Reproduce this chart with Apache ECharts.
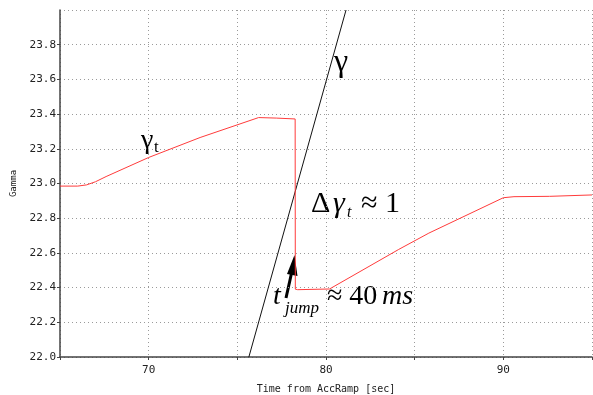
<!DOCTYPE html>
<html>
<head>
<meta charset="utf-8">
<script src="https://cdn.jsdelivr.net/npm/echarts@6/dist/echarts.min.js"></script>
<style>
  html, body { margin: 0; padding: 0; background: #fff; }
  #chart { width: 593px; height: 395px; }
</style>
</head>
<body>
<div id="chart"></div>
<script>
// gamma_t (red) measured curve
const gammaTX = [65, 66.0, 66.5, 67.0, 67.6, 70, 72.9, 76.2, 77.2, 78.26, 78.27, 78.4, 80.2, 84.1, 85.8, 90.0, 90.6, 92.6, 92.7, 95];
const gammaTY = [22.985, 22.985, 22.992, 23.01, 23.04, 23.15, 23.265, 23.38, 23.377, 23.372, 22.391, 22.388, 22.392, 22.62, 22.714, 22.918, 22.924, 22.926, 22.932, 22.934];

// gamma (black) straight ramp
const gammaX = [75.65, 81.13];
const gammaY = [22.0, 24.0];

const xTicks = [70, 80, 90];

window.addEventListener("load", () => {
  let chart = echarts.init(document.getElementById("chart"), null, { renderer: 'canvas' });

  const monoFont = 'DejaVu Sans Mono';
  const dotted = { show: true, lineStyle: { color: '#9a9a9a', type: [1, 3], width: 1 } };

  let option = {
    backgroundColor: '#fff',
    animation: false,
    grid: { left: 60, right: 1, top: 10, bottom: 38, outerBoundsMode: 'none', containLabel: false },
    xAxis: {
      type: 'value',
      min: 65, max: 95, interval: 5,
      name: 'Time from AccRamp [sec]',
      nameLocation: 'middle',
      nameGap: 27,
      nameTextStyle: { fontFamily: monoFont, fontSize: 10, color: '#222' },
      axisLine: { show: true, lineStyle: { color: '#444', width: 1.5 } },
      axisTick: { show: true, length: 3, lineStyle: { color: '#444' } },
      axisLabel: {
        fontFamily: monoFont, fontSize: 11, color: '#222', margin: 8,
        formatter: v => xTicks.includes(v) ? String(v) : ''
      },
      splitLine: dotted
    },
    yAxis: {
      type: 'value',
      min: 22.0, max: 24.0, interval: 0.2,
      name: 'Gamma',
      nameLocation: 'middle',
      nameGap: 35,
      nameTextStyle: { fontFamily: monoFont, fontSize: 9, color: '#222' },
      axisLine: { show: true, lineStyle: { color: '#444', width: 1.5 } },
      axisTick: { show: true, length: 3, lineStyle: { color: '#444' } },
      axisLabel: {
        fontFamily: monoFont, fontSize: 11, color: '#222', margin: 4,
        showMaxLabel: false,
        formatter: v => v.toFixed(1)
      },
      splitLine: dotted
    },
    series: [
      {
        name: 'gamma_t',
        type: 'line',
        symbol: 'none',
        smooth: false,
        lineStyle: { color: '#ff3b3b', width: 1 },
        data: gammaTX.map((x, i) => [x, gammaTY[i]]),
        z: 3
      },
      {
        name: 'gamma',
        type: 'line',
        symbol: 'none',
        lineStyle: { color: '#111', width: 1 },
        data: gammaX.map((x, i) => [x, gammaY[i]]),
        z: 2
      }
    ],
    graphic: [
      // gamma label
      { type: 'text', left: 334, top: 47, style: { text: 'γ', font: '32px "Liberation Serif"', fill: '#000' } },
      // gamma_t label
      { type: 'text', left: 141, top: 127, style: { text: 'γ', font: '28px "Liberation Serif"', fill: '#000' } },
      { type: 'text', left: 154, top: 139, style: { text: 't', font: '17px "Liberation Serif"', fill: '#000' } },
      // delta gamma_t ~ 1
      { type: 'text', left: 311, top: 189, style: { text: 'Δ', font: '30px "Liberation Serif"', fill: '#000' } },
      { type: 'text', left: 333, top: 189, style: { text: 'γ', font: 'italic 30px "Liberation Serif"', fill: '#000' } },
      { type: 'text', left: 347, top: 205, style: { text: 't', font: 'italic 16px "Liberation Serif"', fill: '#000' } },
      { type: 'text', left: 361, top: 189, style: { text: '≈ 1', font: '30px "Liberation Serif"', fill: '#000' } },
      // t_jump ~ 40 ms
      { type: 'text', left: 273, top: 283, style: { text: 't', font: 'italic 28px "Liberation Serif"', fill: '#000' } },
      { type: 'text', left: 285, top: 300, style: { text: 'jump', font: 'italic 17px "Liberation Serif"', fill: '#000' } },
      { type: 'text', left: 327, top: 283, style: { text: '≈ 40', font: '28px "Liberation Serif"', fill: '#000' } },
      { type: 'text', left: 382, top: 283, style: { text: 'ms', font: 'italic 28px "Liberation Serif"', fill: '#000' } },
      // arrow
      { type: 'line', shape: { x1: 286, y1: 298, x2: 292, y2: 271 }, style: { stroke: '#000', lineWidth: 3 } },
      { type: 'polygon', shape: { points: [[294.5, 255], [287, 274], [297.5, 276]] }, style: { fill: '#000' } }
    ]
  };

  chart.setOption(option);
});
</script>
</body>
</html>
